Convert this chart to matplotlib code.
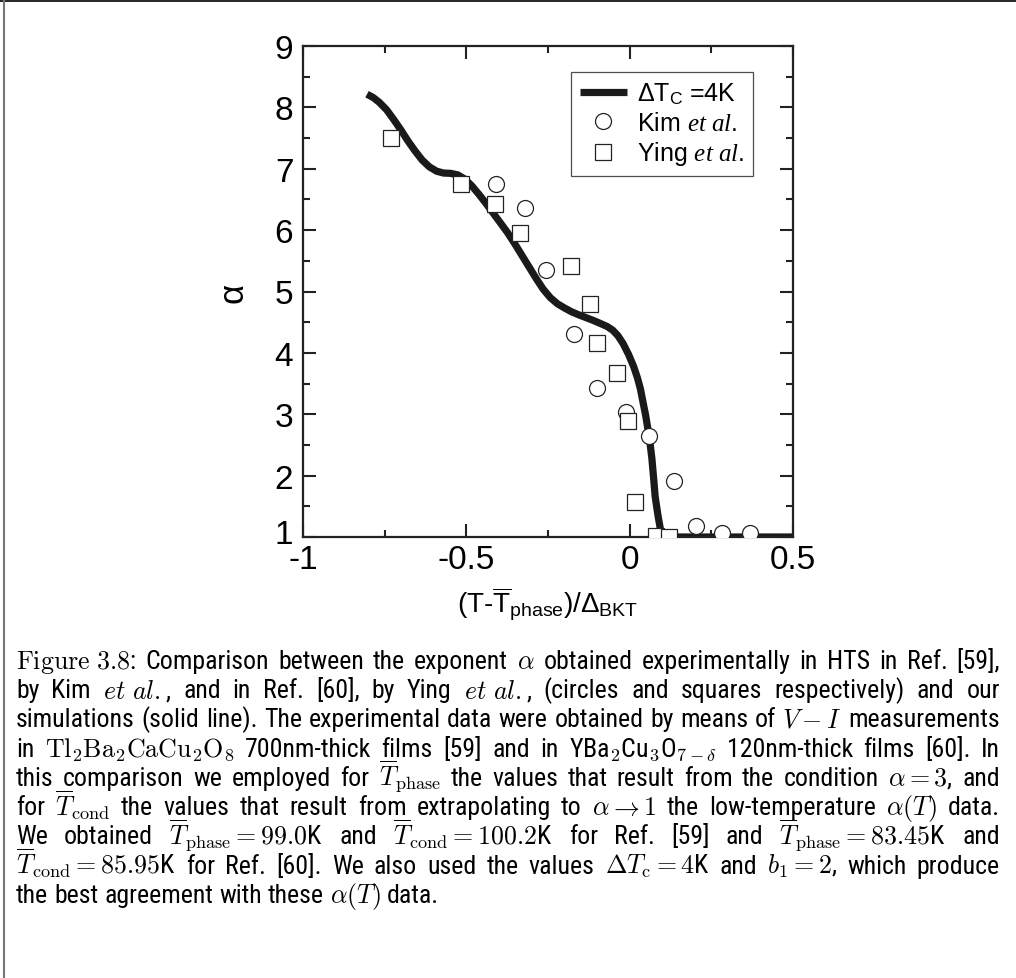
import matplotlib
matplotlib.use("Agg")
import matplotlib.pyplot as plt
from matplotlib.lines import Line2D
from matplotlib import font_manager
import matplotlib.transforms as mtransforms

# ---------------- data ----------------
curve_x = [-0.804, -0.785, -0.766, -0.744, -0.722, -0.700, -0.679, -0.657, -0.635, -0.613,
           -0.591, -0.570, -0.548, -0.526, -0.504, -0.483, -0.461, -0.439, -0.417, -0.396,
           -0.374, -0.352, -0.330, -0.308, -0.286, -0.265, -0.243, -0.221, -0.199, -0.178,
           -0.156, -0.134, -0.112, -0.090, -0.069, -0.052, -0.036, -0.020, -0.003, 0.012,
           0.024, 0.033, 0.040, 0.049, 0.057, 0.063, 0.068, 0.073, 0.078, 0.087, 0.095,
           0.101, 0.106, 0.5]
curve_y = [8.215, 8.16, 8.08, 7.96, 7.80, 7.63, 7.455, 7.29, 7.14, 7.03,
           6.96, 6.93, 6.925, 6.90, 6.83, 6.72, 6.58, 6.43, 6.27, 6.12,
           5.96, 5.78, 5.59, 5.40, 5.21, 5.04, 4.90, 4.80, 4.73, 4.67,
           4.62, 4.575, 4.53, 4.48, 4.43, 4.37, 4.28, 4.15, 3.97, 3.78,
           3.59, 3.41, 3.22, 2.98, 2.72, 2.50, 2.28, 1.98, 1.66, 1.34, 1.10,
           1.03, 1.0, 1.0]

kim_x = [-0.408, -0.321, -0.255, -0.170, -0.101, -0.011, 0.059, 0.137, 0.204, 0.283, 0.367]
kim_y = [6.75, 6.36, 5.355, 4.315, 3.42, 3.04, 2.64, 1.91, 1.175, 1.07, 1.07]

ying_x = [-0.731, -0.517, -0.411, -0.335, -0.181, -0.120, -0.099, -0.039, -0.004, 0.016, 0.080, 0.119]
ying_y = [7.50, 6.757, 6.43, 5.95, 5.41, 4.79, 4.165, 3.68, 2.89, 1.57, 1.02, 1.0]

legend_labels = [r'ΔT$_\mathrm{C}$ =4K', r'Kim $\mathit{et\ al.}$', r'Ying $\mathit{et\ al.}$']
x_ticks = [-1, -0.5, 0, 0.5]
x_tick_labels = ['-1', '-0.5', '0', '0.5']
y_ticks = [1, 2, 3, 4, 5, 6, 7, 8, 9]

caption_lines = [
    r"$\mathrm{Figure\ 3.8}$: Comparison between the exponent $\alpha$ obtained experimentally in HTS in Ref. [59],",
    r"by Kim $\mathit{et\ al.}$, and in Ref. [60], by Ying $\mathit{et\ al.}$, (circles and squares respectively) and our",
    r"simulations (solid line). The experimental data were obtained by means of $V-I$ measurements",
    r"in $\mathrm{Tl_2Ba_2CaCu_2O_8}$ 700nm-thick films [59] and in YBa$_2$Cu$_3$O$_{7-\delta}$ 120nm-thick films [60]. In",
    r"this comparison we employed for $\overline{T}_\mathrm{phase}$ the values that result from the condition $\alpha=3$, and",
    r"for $\overline{T}_\mathrm{cond}$ the values that result from extrapolating to $\alpha\rightarrow1$ the low-temperature $\alpha(T)$ data.",
    r"We obtained $\overline{T}_\mathrm{phase}=99.0$K and $\overline{T}_\mathrm{cond}=100.2$K for Ref. [59] and $\overline{T}_\mathrm{phase}=83.45$K and",
    r"$\overline{T}_\mathrm{cond}=85.95$K for Ref. [60]. We also used the values $\Delta T_\mathrm{c}=4$K and $b_1=2$, which produce",
    r"the best agreement with these $\alpha(T)$ data.",
]

# ---------------- style ----------------
plt.rcParams['font.family'] = ['Liberation Sans', 'DejaVu Sans']
plt.rcParams['mathtext.fontset'] = 'custom'
plt.rcParams['mathtext.rm'] = 'Liberation Sans'
plt.rcParams['mathtext.sf'] = 'Liberation Sans'
plt.rcParams['mathtext.it'] = 'Liberation Serif:italic'
plt.rcParams['mathtext.bf'] = 'Liberation Sans:bold'

installed = {f.name for f in font_manager.fontManager.ttflist}
caption_family = 'Liberation Sans'
for cand in ['Liberation Sans Narrow', 'Roboto Condensed', 'Open Sans Condensed',
             'DejaVu Sans Condensed']:
    if cand in installed:
        caption_family = cand
        break
caption_fonts = [caption_family, 'DejaVu Sans']

W, H = 1016, 979
fig = plt.figure(figsize=(W / 100, H / 100), dpi=100)
ax = fig.add_axes([303 / W, 1 - 538 / H, 490 / W, 491 / H])

ax.plot(curve_x, curve_y, color='#1a1a1a', lw=5.2, solid_capstyle='butt',
        solid_joinstyle='round', zorder=2, label=legend_labels[0])
ax.plot(kim_x, kim_y, ls='none', marker='o', ms=11.5, mfc='white', mec='#222222',
        mew=0.9, zorder=3, label=legend_labels[1])
ax.plot(ying_x, ying_y, ls='none', marker='s', ms=11, mfc='white', mec='#222222',
        mew=0.9, zorder=3, label=legend_labels[2])

ax.set_xlim(-1, 0.5)
ax.set_ylim(1, 9)
ax.set_xticks(x_ticks)
ax.set_xticklabels(x_tick_labels)
ax.set_yticks(y_ticks)
ax.set_xticks([-0.75, -0.25, 0.25], minor=True)
ax.set_yticks([1.5, 2.5, 3.5, 4.5, 5.5, 6.5, 7.5, 8.5], minor=True)
ax.tick_params(which='both', direction='in', top=True, right=True, width=1.5,
               color='#222222', labelsize=24)
ax.tick_params(which='major', length=9.5)
ax.tick_params(which='minor', length=5)
ax.tick_params(axis='x', which='major', pad=5)
ax.tick_params(axis='y', which='major', pad=7)
for s in ax.spines.values():
    s.set_linewidth(1.6)
    s.set_color('#222222')

# lift the bottom y tick label a little so it clears the x tick labels (as in the reference)
ylabels = ax.get_yticklabels()
ylabels[0].set_transform(ylabels[0].get_transform() +
                         mtransforms.ScaledTranslation(0, 6 / 100, fig.dpi_scale_trans))

ax.set_xlabel(r'(T-$\overline{\mathrm{T}}_{\mathrm{phase}}$)/Δ$_{\mathrm{BKT}}$',
              fontsize=20, labelpad=7)
ax.set_ylabel('α', fontsize=25, labelpad=18, rotation=90)

leg = ax.legend(loc='upper right', bbox_to_anchor=(0.918, 0.947), borderaxespad=0,
                fontsize=18, frameon=True, fancybox=False, handlelength=1.9,
                handletextpad=0.4, labelspacing=0.18, borderpad=0.35)
leg.get_frame().set_edgecolor('#222222')
leg.get_frame().set_linewidth(0.9)

# ---------------- page frame ----------------
fig.add_artist(Line2D([0, 1], [1 - 1.5 / H, 1 - 1.5 / H], transform=fig.transFigure,
                      color='black', lw=1.2))
fig.add_artist(Line2D([3.5 / W, 3.5 / W], [0, 1], transform=fig.transFigure,
                      color='#777777', lw=1.5))

# ---------------- caption (justified) ----------------
def split_words(s):
    words, cur, inmath = [], '', False
    for ch in s:
        if ch == '$':
            inmath = not inmath
        if ch == ' ' and not inmath:
            words.append(cur)
            cur = ''
        else:
            cur += ch
    words.append(cur)
    return [w for w in words if w]

renderer = fig.canvas.get_renderer()
x_left, x_right = 16, 1000
line_texts = []
for i, line in enumerate(caption_lines):
    ts = [fig.text(0, 0, w, fontsize=16, family=caption_fonts, math_fontfamily='cm',
                   va='baseline', ha='left', transform=None)
          for w in split_words(line)]
    line_texts.append(ts)

def widths(ts):
    return [t.get_window_extent(renderer).width for t in ts]

probe = fig.text(0, 0, 'a a', fontsize=16, family=caption_fonts, transform=None)
pa = fig.text(0, 0, 'aa', fontsize=16, family=caption_fonts, transform=None)
space16 = probe.get_window_extent(renderer).width - pa.get_window_extent(renderer).width
probe.remove()
pa.remove()

need = 0
for ts in line_texts[:-1]:
    need = max(need, sum(widths(ts)) + (len(ts) - 1) * space16 * 1.0)
fs = 16 * (x_right - x_left) / need
fs = min(fs, 20)
space = space16 * fs / 16

for i, ts in enumerate(line_texts):
    for t in ts:
        t.set_fontsize(fs)
    ws = widths(ts)
    base = H - (669 + i * 29.25)
    if i < len(line_texts) - 1 and len(ts) > 1:
        gap = (x_right - x_left - sum(ws)) / (len(ts) - 1)
    else:
        gap = space
    x = x_left
    for t, w in zip(ts, ws):
        t.set_position((x, base))
        x += w + gap

fig.savefig('out.png', dpi=100)
